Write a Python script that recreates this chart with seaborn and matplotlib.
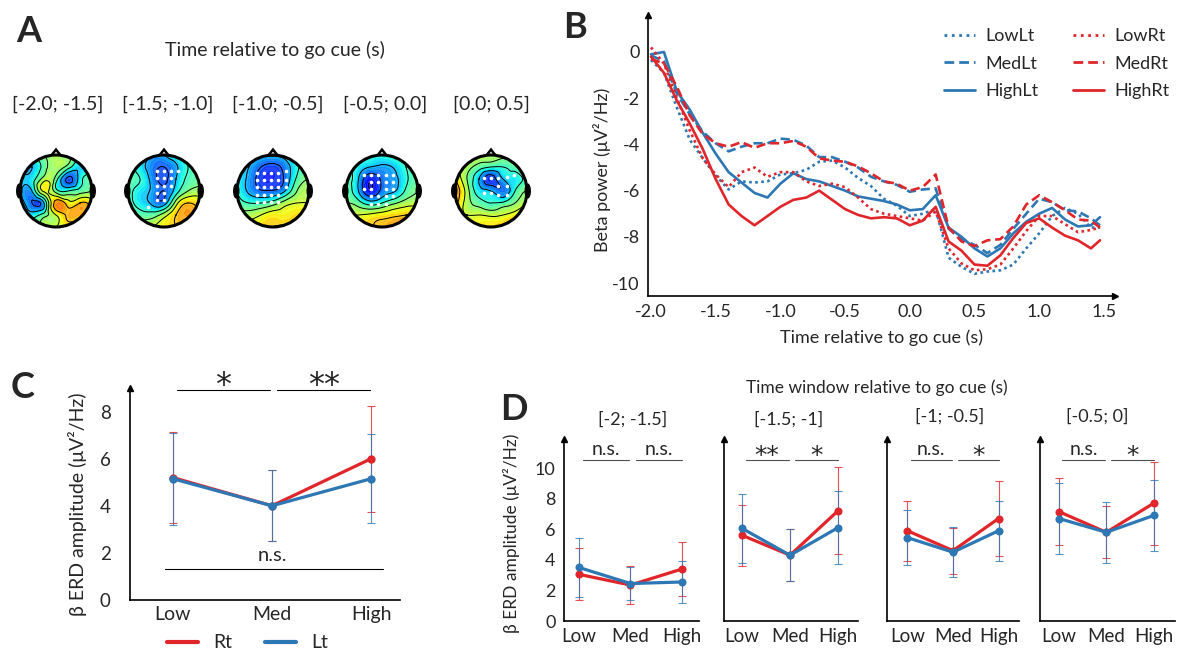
import numpy as np
import pandas as pd
import seaborn as sns
import matplotlib.pyplot as plt
import matplotlib.tri as mtri
from matplotlib.lines import Line2D
from matplotlib.patches import Circle, Ellipse, Polygon

W, H = 1184, 654
red = '#e0262b'
blue = '#2d78b4'

# ---------------- panel A: topographies (coarse 7x7 grids, rows top -> bottom)
topo_windows = ['[-2.0; -1.5]', '[-1.5; -1.0]', '[-1.0; -0.5]', '[-0.5; 0.0]', '[0.0; 0.5]']
topo_1 = [[0.45, 0.45, 0.50, 0.55, 0.50, 0.45, 0.45],
          [0.35, 0.30, 0.45, 0.55, 0.45, 0.32, 0.40],
          [0.35, 0.35, 0.55, 0.45, 0.18, 0.35, 0.45],
          [0.32, 0.30, 0.62, 0.45, 0.40, 0.45, 0.50],
          [0.35, 0.20, 0.30, 0.75, 0.65, 0.70, 0.65],
          [0.45, 0.35, 0.45, 0.60, 0.72, 0.72, 0.68],
          [0.50, 0.50, 0.55, 0.60, 0.65, 0.65, 0.65]]
topo_2 = [[0.45, 0.40, 0.30, 0.30, 0.40, 0.45, 0.45],
          [0.45, 0.35, 0.24, 0.20, 0.28, 0.40, 0.45],
          [0.45, 0.40, 0.26, 0.18, 0.30, 0.42, 0.45],
          [0.45, 0.35, 0.28, 0.20, 0.35, 0.50, 0.55],
          [0.45, 0.35, 0.28, 0.25, 0.55, 0.70, 0.65],
          [0.50, 0.45, 0.45, 0.55, 0.70, 0.75, 0.70],
          [0.55, 0.55, 0.60, 0.65, 0.70, 0.70, 0.70]]
topo_3 = [[0.40, 0.38, 0.33, 0.32, 0.35, 0.45, 0.45],
          [0.40, 0.30, 0.20, 0.17, 0.24, 0.38, 0.45],
          [0.38, 0.27, 0.16, 0.15, 0.22, 0.42, 0.50],
          [0.40, 0.28, 0.21, 0.21, 0.30, 0.50, 0.55],
          [0.45, 0.40, 0.40, 0.45, 0.55, 0.60, 0.60],
          [0.55, 0.55, 0.60, 0.65, 0.65, 0.68, 0.68],
          [0.65, 0.65, 0.68, 0.70, 0.72, 0.72, 0.70]]
topo_4 = [[0.45, 0.42, 0.38, 0.38, 0.42, 0.45, 0.45],
          [0.45, 0.36, 0.30, 0.28, 0.31, 0.40, 0.45],
          [0.45, 0.31, 0.13, 0.22, 0.27, 0.38, 0.45],
          [0.45, 0.31, 0.12, 0.23, 0.29, 0.42, 0.50],
          [0.50, 0.45, 0.35, 0.40, 0.48, 0.55, 0.55],
          [0.60, 0.60, 0.62, 0.65, 0.68, 0.70, 0.70],
          [0.65, 0.65, 0.68, 0.72, 0.75, 0.80, 0.78]]
topo_5 = [[0.60, 0.60, 0.58, 0.55, 0.55, 0.55, 0.55],
          [0.62, 0.55, 0.45, 0.40, 0.40, 0.45, 0.50],
          [0.70, 0.50, 0.30, 0.15, 0.30, 0.35, 0.45],
          [0.78, 0.55, 0.35, 0.30, 0.22, 0.40, 0.50],
          [0.75, 0.55, 0.45, 0.40, 0.42, 0.50, 0.60],
          [0.65, 0.60, 0.60, 0.58, 0.60, 0.65, 0.72],
          [0.65, 0.65, 0.65, 0.68, 0.72, 0.80, 0.80]]
# significant electrodes (white dots)
dots_1 = []
dots_2 = [(-0.2, 0.55), (0.0, 0.55), (0.2, 0.55), (0.4, 0.55), (-0.2, 0.35), (0.0, 0.35),
          (0.2, 0.35), (-0.2, 0.15), (0.0, 0.15), (0.2, 0.15), (-0.2, -0.05), (0.0, -0.05),
          (-0.2, -0.25), (0.0, -0.25), (-0.45, -0.45)]
dots_3 = [(-0.45, 0.5), (-0.25, 0.5), (-0.05, 0.5), (0.15, 0.5), (0.35, 0.55),
          (-0.45, 0.3), (-0.25, 0.3), (-0.05, 0.3), (0.15, 0.3), (0.35, 0.3),
          (-0.45, 0.1), (-0.25, 0.1), (-0.05, 0.1), (0.15, 0.1), (0.35, 0.1),
          (-0.45, -0.1), (-0.25, -0.1), (-0.05, -0.1), (0.15, -0.1),
          (-0.45, -0.3), (-0.25, -0.3), (-0.05, -0.3), (0.15, -0.3)]
dots_4 = [(-0.5, 0.45), (-0.3, 0.45), (-0.1, 0.45), (0.1, 0.45), (0.3, 0.45),
          (-0.3, 0.25), (-0.1, 0.25), (0.1, 0.25), (0.3, 0.25),
          (-0.5, 0.05), (-0.3, 0.05), (0.1, 0.05), (0.3, 0.05),
          (-0.3, -0.15), (-0.1, -0.15), (0.1, -0.15), (0.3, -0.15),
          (-0.3, -0.35), (-0.1, -0.35), (0.1, -0.35)]
dots_5 = [(-0.2, 0.35), (0.0, 0.35), (0.2, 0.35), (0.45, 0.4), (0.65, 0.45),
          (0.2, 0.15), (0.45, 0.15), (-0.2, -0.05), (0.0, -0.05), (0.2, -0.1), (0.45, -0.1)]

# ---------------- panel B: beta power time courses
time_b = [-2.0, -1.9, -1.8, -1.7, -1.6, -1.5, -1.4, -1.3, -1.2, -1.1, -1.0, -0.9,
          -0.8, -0.7, -0.6, -0.5, -0.4, -0.3, -0.2, -0.1, 0.0, 0.1, 0.2, 0.3,
          0.4, 0.5, 0.6, 0.7, 0.8, 0.9, 1.0, 1.1, 1.2, 1.3, 1.4, 1.47]
low_lt = [-0.35, -0.9, -2.4, -3.8, -4.6, -5.35, -5.95, -5.6, -5.65, -5.6, -5.3, -5.25,
          -5.1, -4.75, -4.7, -5.0, -5.45, -5.8, -6.35, -6.65, -7.1, -7.0, -6.8, -8.9,
          -9.3, -9.6, -9.5, -9.45, -9.2, -8.5, -7.85, -7.1, -6.75, -7.0, -7.6, -7.6]
med_lt = [-0.15, -0.4, -1.8, -2.7, -3.45, -3.95, -4.3, -4.1, -3.95, -3.95, -3.75, -3.8,
          -4.05, -4.55, -4.55, -4.75, -5.0, -5.4, -5.6, -5.75, -6.05, -5.95, -5.9, -7.65,
          -8.1, -8.35, -8.7, -8.35, -7.65, -7.0, -6.35, -6.5, -6.85, -6.9, -7.2, -7.5]
high_lt = [-0.1, 0.0, -1.7, -2.5, -3.5, -4.4, -5.2, -5.65, -6.1, -6.3, -5.7, -5.25,
           -5.5, -5.6, -5.8, -6.0, -6.25, -6.35, -6.45, -6.6, -6.85, -6.8, -6.2, -7.6,
           -8.0, -8.5, -8.85, -8.5, -7.85, -7.35, -7.0, -6.75, -7.25, -7.55, -7.5, -7.15]
low_rt = [0.2, -0.5, -2.0, -3.4, -4.6, -5.3, -5.85, -5.2, -5.0, -5.4, -5.2, -5.2,
          -5.6, -5.8, -5.7, -5.85, -6.3, -6.8, -7.0, -7.1, -7.2, -7.3, -6.9, -8.5,
          -9.15, -9.45, -9.4, -9.2, -8.5, -7.75, -7.1, -7.1, -7.45, -7.8, -7.7, -7.6]
med_rt = [-0.3, -0.5, -1.5, -2.75, -3.55, -3.95, -4.1, -3.9, -4.15, -3.95, -3.95, -3.85,
          -4.1, -4.6, -4.7, -4.75, -4.95, -5.25, -5.6, -5.7, -6.0, -5.85, -5.3, -7.6,
          -8.2, -8.4, -8.15, -8.1, -7.55, -6.6, -6.2, -6.5, -6.85, -7.25, -7.3, -7.6]
high_rt = [-0.2, -0.9, -2.1, -3.1, -4.2, -5.5, -6.6, -7.1, -7.5, -7.1, -6.7, -6.4,
           -6.3, -6.0, -6.4, -6.8, -7.05, -7.2, -7.15, -7.2, -7.5, -7.3, -6.7, -8.2,
           -8.6, -9.2, -9.25, -8.8, -8.05, -7.4, -7.2, -7.6, -7.95, -8.15, -8.5, -8.15]
b_xticks = [-2.0, -1.5, -1.0, -0.5, 0.0, 0.5, 1.0, 1.5]
b_yticks = [0, -2, -4, -6, -8, -10]

# ---------------- panel C: ERD amplitude, whole window
levels = ['Low', 'Med', 'High']
c_rt_mean = [5.2, 4.0, 6.0]
c_rt_sd = [1.95, 1.5, 2.25]
c_lt_mean = [5.15, 4.0, 5.15]
c_lt_sd = [1.95, 1.5, 1.9]
c_sig = ['*', '**']

# ---------------- panel D: ERD amplitude per time window
d_windows = ['[-2; -1.5]', '[-1.5; -1]', '[-1; -0.5]', '[-0.5; 0]']
d_rt_mean = [[3.05, 2.35, 3.4], [5.6, 4.3, 7.2], [5.9, 4.6, 6.7], [7.15, 5.8, 7.7]]
d_rt_sd = [[1.7, 1.25, 1.75], [2.0, 1.7, 2.85], [1.95, 1.5, 2.45], [2.2, 1.7, 2.7]]
d_lt_mean = [[3.5, 2.45, 2.55], [6.05, 4.3, 6.1], [5.45, 4.5, 5.9], [6.7, 5.8, 6.9]]
d_lt_sd = [[1.9, 1.05, 1.35], [2.25, 1.7, 2.4], [1.8, 1.65, 1.95], [2.3, 2.0, 2.3]]
d_sig = [['n.s.', 'n.s.'], ['**', '*'], ['n.s.', '*'], ['n.s.', '*']]

sns.set_style('white')
plt.rcParams['font.family'] = ['Lato', 'DejaVu Sans']
plt.rcParams['axes.linewidth'] = 1.2
plt.rcParams['axes.edgecolor'] = 'black'

fig = plt.figure(figsize=(W / 100, H / 100), dpi=100)


def px_axes(left, top, right, bottom):
    return fig.add_axes([left / W, 1 - bottom / H, (right - left) / W, (bottom - top) / H])


def ftext(x, y, s, **kw):
    fig.text(x / W, 1 - y / H, s, ha='center', va='center', **kw)


def axis_arrows(ax, xarrow=False):
    ax.plot(0, 1, marker='^', color='k', ms=5, transform=ax.transAxes, clip_on=False)
    if xarrow:
        ax.plot(1, 0, marker='>', color='k', ms=5, transform=ax.transAxes, clip_on=False)


# panel letters
for letter, (lx, ly) in zip('ABCD', [(29, 31), (575, 27), (23, 387), (514, 410)]):
    ftext(lx, ly, letter, fontsize=26, fontweight='bold')

# ---------------- A
ftext(275, 50, 'Time relative to go cue (s)', fontsize=14)
head_x = [56, 164, 273, 382, 491]
label_x = [58, 168, 278, 385, 491]
head_y = 191
gx = np.linspace(-1, 1, 7)
GX, GY = np.meshgrid(gx, gx[::-1])
base_tri = mtri.Triangulation(GX.ravel(), GY.ravel())
refiner = mtri.UniformTriRefiner(base_tri)
for cx, lx, label, field, dots in zip(head_x, label_x, topo_windows,
                                      [topo_1, topo_2, topo_3, topo_4, topo_5],
                                      [dots_1, dots_2, dots_3, dots_4, dots_5]):
    ftext(lx, 104, label, fontsize=14)
    r = 36 * 1.4
    ax = px_axes(cx - r, head_y - r, cx + r, head_y + r)
    z = np.asarray(field).ravel()
    interp = mtri.CubicTriInterpolator(base_tri, z)
    tri_f, z_f = refiner.refine_field(z, triinterpolator=interp, subdiv=4)
    clip = Circle((0, 0), 1, transform=ax.transData)
    cf = ax.tricontourf(tri_f, z_f, levels=np.linspace(0, 1, 41), cmap='jet',
                        vmin=0, vmax=1, extend='both', alpha=0.85)
    cl = ax.tricontour(tri_f, z_f, levels=np.linspace(0.1, 0.9, 9), colors='k',
                       linewidths=0.7)
    cf.set_clip_path(clip)
    cl.set_clip_path(clip)
    if dots:
        ax.plot([d[0] for d in dots], [d[1] for d in dots], 'o', color='white',
                ms=2.6, mew=0)
    ax.add_patch(Circle((0, 0), 1, fill=False, ec='k', lw=2.2))
    ax.add_patch(Polygon([(-0.13, 0.985), (0, 1.15), (0.13, 0.985)], closed=False,
                         fill=False, ec='k', lw=1.8))
    ax.add_patch(Ellipse((-1.02, 0.0), 0.14, 0.38, fc='k', ec='k'))
    ax.add_patch(Ellipse((1.02, 0.0), 0.14, 0.38, fc='k', ec='k'))
    ax.set_xlim(-1.4, 1.4)
    ax.set_ylim(-1.4, 1.4)
    ax.axis('off')

# ---------------- B
ax_b = px_axes(648, 15, 1115, 296)
curves = {('Low', 'Lt'): low_lt, ('Med', 'Lt'): med_lt, ('High', 'Lt'): high_lt,
          ('Low', 'Rt'): low_rt, ('Med', 'Rt'): med_rt, ('High', 'Rt'): high_rt}
df_b = pd.concat([pd.DataFrame({'time': time_b, 'power': vals, 'level': lev, 'side': side})
                  for (lev, side), vals in curves.items()], ignore_index=True)
sns.lineplot(data=df_b, x='time', y='power', hue='side', style='level',
             hue_order=['Lt', 'Rt'], style_order=levels,
             palette={'Lt': blue, 'Rt': red},
             dashes={'Low': (1, 1.3), 'Med': (3.5, 1.8), 'High': ''},
             estimator=None, lw=1.9, legend=False, ax=ax_b)
ax_b.set_xlim(-2.023, 1.586)
ax_b.set_ylim(-10.56, 1.6)
ax_b.set_xticks(b_xticks, labels=[f'{t:.1f}' for t in b_xticks])
ax_b.set_yticks(b_yticks, labels=[str(t) for t in b_yticks])
ax_b.tick_params(length=0, pad=6, labelsize=13)
ax_b.set(xlabel='', ylabel='')
sns.despine(ax=ax_b)
axis_arrows(ax_b, xarrow=True)
ftext(602, 170, 'Beta power (μV²/Hz)', rotation=90, fontsize=13)
ftext(882, 338, 'Time relative to go cue (s)', fontsize=13)
styles = {'Low': ':', 'Med': (0, (3.5, 1.8)), 'High': '-'}
handles, names = [], []
for side, col in [('Lt', blue), ('Rt', red)]:
    for lev in levels:
        handles.append(Line2D([], [], color=col, lw=2, ls=styles[lev]))
        names.append(lev + side)
ax_b.legend(handles, names, ncol=2, frameon=False, fontsize=13, loc='upper left',
            bbox_to_anchor=(944 / W, 1 - 28 / H), bbox_transform=fig.transFigure,
            handlelength=1.7, handletextpad=0.6, columnspacing=1.9, labelspacing=0.65,
            borderpad=0, borderaxespad=0)


# ---------------- C and D helpers
def draw_levels(ax, rt_mean, rt_sd, lt_mean, lt_sd, lw, ms, cap):
    pos = [0, 1, 2]
    for mean, sd, col in [(rt_mean, rt_sd, red), (lt_mean, lt_sd, blue)]:
        ax.errorbar(pos, mean, yerr=sd, fmt='none', ecolor=col, elinewidth=0.8,
                    capsize=cap, capthick=0.8, alpha=0.8, zorder=1)
    df = pd.DataFrame({'pos': pos * 2, 'amp': list(rt_mean) + list(lt_mean),
                       'side': ['Rt'] * 3 + ['Lt'] * 3})
    sns.lineplot(data=df, x='pos', y='amp', hue='side', hue_order=['Rt', 'Lt'],
                 palette={'Rt': red, 'Lt': blue}, marker='o', markersize=ms,
                 markeredgewidth=0, lw=lw, legend=False, ax=ax, zorder=3)
    ax.set(xlabel='', ylabel='')
    ax.set_xticks(pos, labels=levels)
    sns.despine(ax=ax)


def star_text(ax, x, y, s, size):
    ax.text(x, y, s, ha='center', va='baseline', fontsize=size,
            family='DejaVu Sans', clip_on=False)


# ---------------- C
ax_c = px_axes(130, 388, 400, 600)
draw_levels(ax_c, c_rt_mean, c_rt_sd, c_lt_mean, c_lt_sd, lw=2.3, ms=6, cap=3)
ax_c.set_xlim(-0.43, 2.29)
ax_c.set_ylim(0, 9.0)
ax_c.set_yticks([0, 2, 4, 6, 8])
ax_c.tick_params(axis='y', length=0, pad=14, labelsize=13.5)
ax_c.tick_params(axis='x', length=0, pad=4, labelsize=14)
axis_arrows(ax_c)
for (x0, x1), mark in zip([(0.04, 0.98), (1.05, 1.99)], c_sig):
    ax_c.plot([x0, x1], [8.9, 8.9], color='k', lw=0.8, clip_on=False)
    star_text(ax_c, (x0 + x1) / 2, 8.75, mark, 23)
ax_c.plot([-0.08, 2.12], [1.3, 1.3], color='k', lw=0.8)
ax_c.text(1.0, 1.9, 'n.s.', ha='center', va='center', fontsize=14.5)
ftext(78, 504, 'β ERD amplitude (μV²/Hz)', rotation=90, fontsize=14)
ax_c.legend([Line2D([], [], color=red, lw=3), Line2D([], [], color=blue, lw=3)],
            ['Rt', 'Lt'], ncol=2, frameon=False, fontsize=14, loc='center left',
            bbox_to_anchor=(167 / W, 1 - 643 / H), bbox_transform=fig.transFigure,
            handlelength=1.6, handletextpad=0.8, columnspacing=1.65,
            borderpad=0, borderaxespad=0)

# ---------------- D
ftext(877, 388, 'Time window relative to go cue (s)', fontsize=12.5)
ftext(512, 533, 'β ERD amplitude (μV²/Hz)', rotation=90, fontsize=12.5)
d_frames = [(564, 699, -0.29, 2.33), (724, 858, -0.38, 2.42),
            (887, 1019, -0.45, 2.45), (1040, 1175, -0.4, 2.45)]
d_title_x = [633, 789, 950, 1097]
for i in range(4):
    left, right, x_lo, x_hi = d_frames[i]
    ax = px_axes(left, 439, right, 621)
    draw_levels(ax, d_rt_mean[i], d_rt_sd[i], d_lt_mean[i], d_lt_sd[i], lw=2.3, ms=5.8, cap=2.7)
    ax.set_xlim(x_lo, x_hi)
    ax.set_ylim(0, 11.9)
    ax.tick_params(axis='x', length=0, pad=5, labelsize=13.5)
    if i == 0:
        ax.set_yticks([0, 2, 4, 6, 8, 10])
        ax.tick_params(axis='y', length=0, pad=6, labelsize=13)
    else:
        ax.set_yticks([])
    axis_arrows(ax)
    for (x0, x1), mark in zip([(0.07, 0.97), (1.1, 2.0)], d_sig[i]):
        ax.plot([x0, x1], [10.5, 10.5], color='#505050', lw=0.8, clip_on=False)
        if mark == 'n.s.':
            ax.text((x0 + x1) / 2, 11.2, mark, ha='center', va='center', fontsize=14,
                    clip_on=False)
        else:
            star_text(ax, (x0 + x1) / 2, 10.35, mark, 18)
    ftext(d_title_x[i], 419 if i < 2 else 416, d_windows[i], fontsize=13)

fig.savefig('out.png', dpi=100)
